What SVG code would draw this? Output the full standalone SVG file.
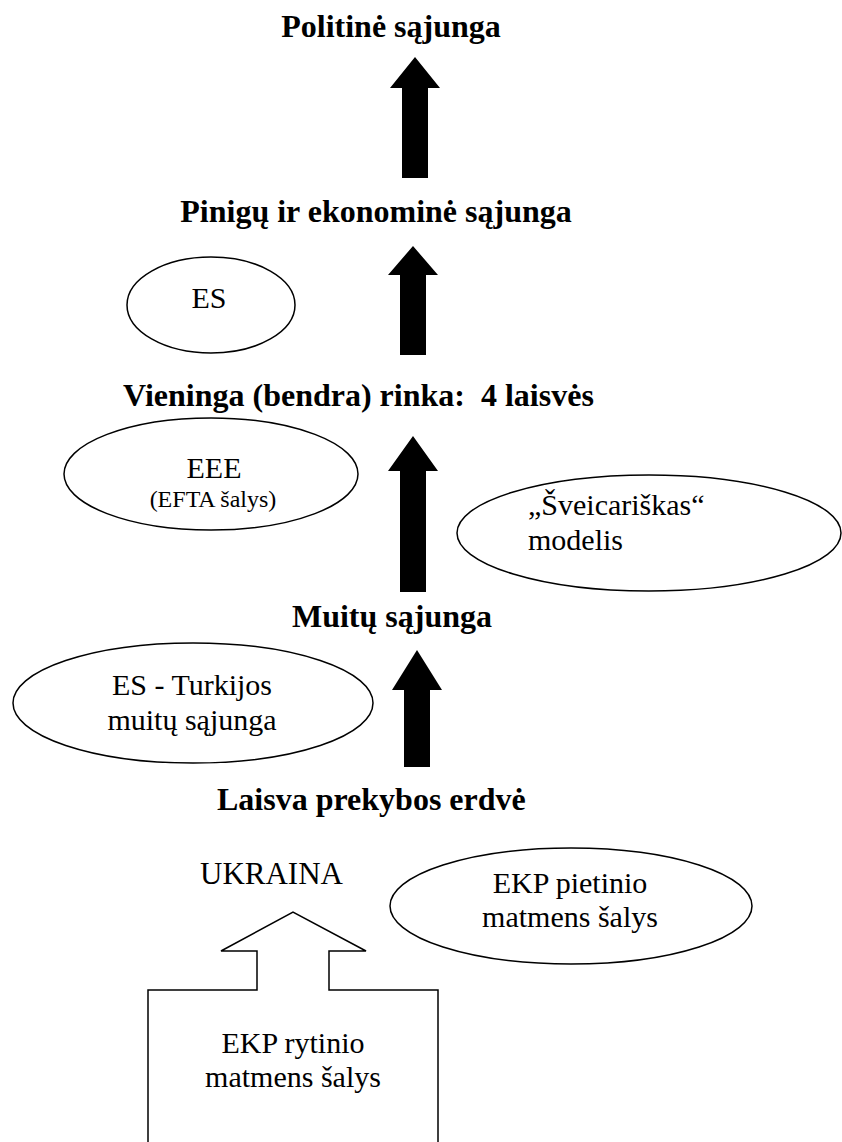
<svg xmlns="http://www.w3.org/2000/svg" width="842" height="1142" viewBox="0 0 842 1142">
<style>
.h{font-family:"Liberation Serif","Times New Roman",serif;font-weight:bold;font-size:32px;fill:#000;white-space:pre}
.t{font-family:"Liberation Serif","Times New Roman",serif;font-size:30px;fill:#000}
.s{font-family:"Liberation Serif","Times New Roman",serif;font-size:24px;fill:#000}
.e{fill:#fff;stroke:#000;stroke-width:1.5}
.a{fill:#000;stroke:none}
</style>
<rect width="842" height="1142" fill="#fff"/>
<g id="connectors">
<polygon class="a" points="415,57 440,88 428,88 428,178 402,178 402,88 390,88"/>
<polygon class="a" points="413,246 438,275 426,275 426,355 400,355 400,275 388,275"/>
<polygon class="a" points="413,436 438,471 426,471 426,592 400,592 400,471 388,471"/>
<polygon class="a" points="417,650 442,690 430,690 430,767 404,767 404,690 392,690"/>
</g>
<g id="politine"><text class="h" x="391" y="37" text-anchor="middle">Politinė sąjunga</text></g>
<g id="pinigu"><text class="h" x="376" y="222" text-anchor="middle">Pinigų ir ekonominė sąjunga</text></g>
<g id="vieninga"><text class="h" x="123" y="406">Vieninga (bendra) rinka:  4 laisvės</text></g>
<g id="muitu"><text class="h" x="392" y="627" text-anchor="middle">Muitų sąjunga</text></g>
<g id="laisva"><text class="h" x="217" y="810">Laisva prekybos erdvė</text></g>
<g id="es"><ellipse class="e" cx="211" cy="305" rx="84" ry="48"/><text class="t" x="209" y="308" text-anchor="middle">ES</text></g>
<g id="eee"><ellipse class="e" cx="211" cy="474" rx="147" ry="56"/><text class="t" x="214" y="478" text-anchor="middle">EEE</text><text class="s" x="213" y="507" text-anchor="middle">(EFTA šalys)</text></g>
<g id="sveicariskas"><ellipse class="e" cx="649" cy="533" rx="192" ry="58"/><text class="t" x="528" y="515">„Šveicariškas“</text><text class="t" x="528" y="550">modelis</text></g>
<g id="turkija"><ellipse class="e" cx="193" cy="703" rx="180" ry="60"/><text class="t" x="192" y="695" text-anchor="middle">ES - Turkijos</text><text class="t" x="192" y="730" text-anchor="middle">muitų sąjunga</text></g>
<g id="ukraina"><text class="t" x="200" y="884" style="font-size:31px">UKRAINA</text></g>
<g id="pietinio"><ellipse class="e" cx="571" cy="906" rx="181" ry="58"/><text class="t" x="570" y="893" text-anchor="middle">EKP pietinio</text><text class="t" x="570" y="927" text-anchor="middle">matmens šalys</text></g>
<g id="rytinio"><path class="e" d="M148,1150 L148,990 L257,990 L257,951 L221,951 L293,912 L366,951 L329,951 L329,990 L438,990 L438,1150"/><text class="t" x="293" y="1053" text-anchor="middle">EKP rytinio</text><text class="t" x="293" y="1087" text-anchor="middle">matmens šalys</text></g>
</svg>
